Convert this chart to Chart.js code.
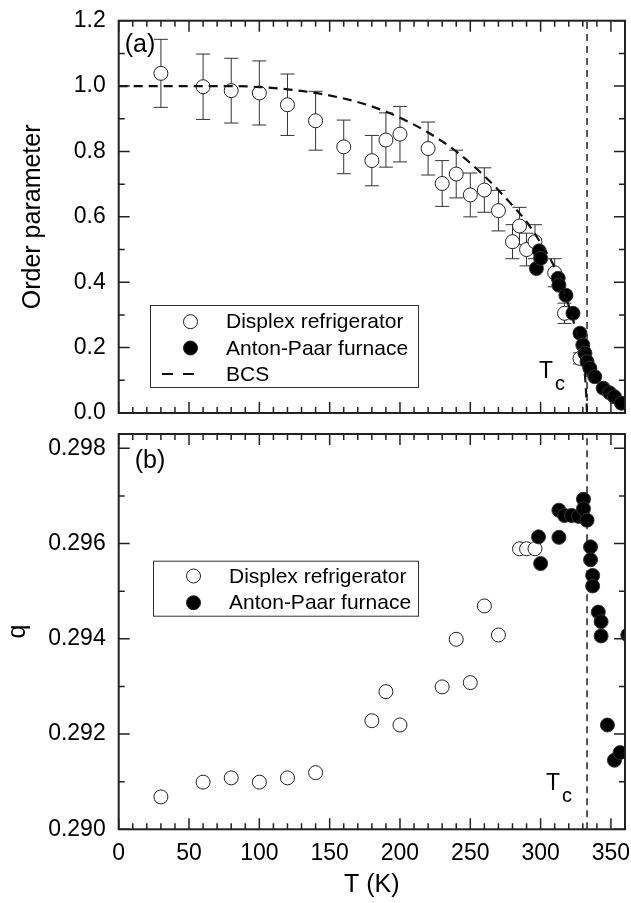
<!DOCTYPE html>
<html>
<head>
<meta charset="utf-8">
<script src="https://cdn.jsdelivr.net/npm/chart.js@4.4.0/dist/chart.umd.min.js"></script>
<style>
  html, body { margin: 0; padding: 0; background: #fff; }
  #wrap { position: relative; width: 631px; height: 903px; overflow: hidden; }
  canvas { position: absolute; left: 0; }
  #cA { top: 0; }
  #cB { top: 420px; }
</style>
</head>
<body>
<div id="wrap">
  <canvas id="cA" width="631" height="425"></canvas>
  <canvas id="cB" width="631" height="483"></canvas>
</div>
<script>
// transition temperature (K)
var tc = 333;

// (a) order parameter, Displex refrigerator (open, with error bars)
var dispT     = [30, 60, 80, 100, 120, 140, 160, 180, 190, 200, 220, 230, 240, 250, 260, 270, 280, 285, 290, 296, 310, 317, 328];
var dispOrder = [1.039, 0.998, 0.986, 0.979, 0.943, 0.894, 0.814, 0.772, 0.835, 0.853, 0.809, 0.702, 0.731, 0.667, 0.682, 0.619, 0.524, 0.572, 0.500, 0.524, 0.429, 0.305, 0.167];
var dispErr   = [0.104, 0.100, 0.099, 0.098, 0.094, 0.090, 0.082, 0.077, 0.083, 0.085, 0.081, 0.070, 0.073, 0.067, 0.068, 0.062, 0.052, 0.057, 0.050, 0.052, 0.043, 0.031, 0.017];

// (a) order parameter, Anton-Paar furnace (filled)
var furnT     = [297, 299, 300, 312.5, 313, 318, 323, 328, 330, 331.5, 333, 335, 338.5, 344.5, 349, 352.5, 357.5];
var furnOrder = [0.442, 0.496, 0.473, 0.412, 0.391, 0.360, 0.305, 0.244, 0.208, 0.183, 0.157, 0.137, 0.111, 0.076, 0.062, 0.050, 0.030];

// (a) BCS curve
var bcsT     = [0, 40, 80, 100, 120, 140, 160, 180, 200, 220, 240, 260, 280, 290, 300, 310, 316, 322, 326, 330, 332, 333];
var bcsOrder = [1.0, 1.0, 1.0, 0.997, 0.99, 0.979, 0.962, 0.938, 0.903, 0.858, 0.8, 0.725, 0.635, 0.585, 0.52, 0.445, 0.38, 0.3, 0.24, 0.16, 0.09, 0.0];

// (b) q, Displex refrigerator
var dispTq = [30, 60, 80, 100, 120, 140, 180, 190, 200, 230, 240, 250, 260, 270, 285, 290, 296];
var dispQ  = [0.29068, 0.29099, 0.29108, 0.29099, 0.29108, 0.29119, 0.29228, 0.29289, 0.29219, 0.29299, 0.29399, 0.29308, 0.29469, 0.29408, 0.29589, 0.29589, 0.29589];

// (b) q, Anton-Paar furnace
var furnTq = [298.5, 300, 313, 313, 317, 322, 327, 330.5, 330.5, 333, 335.5, 335.5, 337, 337, 341, 343, 343, 347.5, 352.5, 356.5, 362];
var furnQ  = [0.29614, 0.29558, 0.29670, 0.29613, 0.29659, 0.29659, 0.29657, 0.29693, 0.29673, 0.29649, 0.29593, 0.29566, 0.29533, 0.29511, 0.29456, 0.29436, 0.29406, 0.29219, 0.29145, 0.29161, 0.29408];

var FONT = "'Liberation Sans', Arial, sans-serif";
Chart.defaults.font.family = FONT;
Chart.defaults.color = '#000';

function pts(xs, ys) {
    return xs.map(function (x, i) { return { x: x, y: ys[i] }; });
}

// frame with inward ticks on all four sides
function boxTicks(yMin, yMinor, yCount) {
    return {
        id: 'boxTicks',
        afterDatasetsDraw: function (chart) {
            var ctx = chart.ctx, a = chart.chartArea;
            var xs = chart.scales.x, ys = chart.scales.y;
            ctx.save();
            ctx.strokeStyle = '#222';
            ctx.lineWidth = 1.5;
            ctx.beginPath();
            for (var i = 0; i <= 36; i++) {
                var px = xs.getPixelForValue(i * 10);
                var len = i % 5 === 0 ? 11 : 6;
                ctx.moveTo(px, a.bottom); ctx.lineTo(px, a.bottom - len);
                ctx.moveTo(px, a.top); ctx.lineTo(px, a.top + len);
            }
            for (var j = 0; j <= yCount; j++) {
                var py = ys.getPixelForValue(yMin + j * yMinor);
                var l2 = j % 2 === 0 ? 11 : 6;
                ctx.moveTo(a.left, py); ctx.lineTo(a.left + l2, py);
                ctx.moveTo(a.right, py); ctx.lineTo(a.right - l2, py);
            }
            ctx.stroke();
            ctx.lineWidth = 2;
            ctx.strokeRect(a.left, a.top, a.right - a.left, a.bottom - a.top);
            ctx.restore();
        }
    };
}

var errorBars = {
    id: 'errorBars',
    beforeDatasetsDraw: function (chart) {
        var ctx = chart.ctx, xs = chart.scales.x, ys = chart.scales.y;
        ctx.save();
        ctx.strokeStyle = '#333';
        ctx.lineWidth = 1;
        ctx.beginPath();
        dispT.forEach(function (t, i) {
            var px = xs.getPixelForValue(t);
            var top = ys.getPixelForValue(dispOrder[i] + dispErr[i]);
            var bot = ys.getPixelForValue(dispOrder[i] - dispErr[i]);
            ctx.moveTo(px, top); ctx.lineTo(px, bot);
            ctx.moveTo(px - 7, top); ctx.lineTo(px + 7, top);
            ctx.moveTo(px - 7, bot); ctx.lineTo(px + 7, bot);
        });
        ctx.stroke();
        ctx.restore();
    }
};

function legendBox(box, rows, tcPos, tag) {
    return {
        id: 'legendBox',
        afterDraw: function (chart) {
            var ctx = chart.ctx, a = chart.chartArea;
            var xTc = chart.scales.x.getPixelForValue(tc);
            ctx.save();
            ctx.fillStyle = '#fff';
            ctx.fillRect(box.x, box.y, box.w, box.h);
            ctx.strokeStyle = '#333';
            ctx.lineWidth = 1;
            ctx.strokeRect(box.x + 0.5, box.y + 0.5, box.w, box.h);
            ctx.font = '21px ' + FONT;
            ctx.textBaseline = 'middle';
            rows.forEach(function (r) {
                ctx.beginPath();
                if (r.kind === 'line') {
                    ctx.setLineDash([11, 10]);
                    ctx.lineWidth = 2.2;
                    ctx.strokeStyle = '#111';
                    ctx.moveTo(box.x + 12, r.y); ctx.lineTo(box.x + 45, r.y);
                    ctx.stroke();
                    ctx.setLineDash([]);
                } else {
                    ctx.arc(box.x + 40.5, r.y, 7, 0, Math.PI * 2);
                    ctx.fillStyle = r.kind === 'open' ? '#fff' : '#000';
                    ctx.fill();
                    ctx.lineWidth = 1;
                    ctx.strokeStyle = '#222';
                    ctx.stroke();
                }
                ctx.fillStyle = '#000';
                ctx.fillText(r.text, box.x + 76, r.y + 1);
            });
            // T_c label
            ctx.textBaseline = 'alphabetic';
            ctx.font = '23px ' + FONT;
            ctx.fillText('T', xTc + tcPos.tx, a.bottom - tcPos.ty);
            ctx.font = '20px ' + FONT;
            ctx.fillText('c', xTc + tcPos.cx, a.bottom - tcPos.cy);
            // panel tag
            ctx.font = '25px ' + FONT;
            ctx.fillText(tag.text, a.left + tag.dx, a.top + tag.dy);
            ctx.restore();
        }
    };
}

var tickFont = { size: 23 };
var titleFont = { size: 25 };

function fixY(s) {
    s.width = 118.7;
    s.paddingTop = 0;
    s.paddingBottom = 0;
}

// ---- panel (a)
new Chart(document.getElementById('cA'), {
    type: 'scatter',
    data: {
        datasets: [
            { data: pts(bcsT, bcsOrder), showLine: true, borderColor: '#111', borderWidth: 2.2,
              borderDash: [9, 6], pointRadius: 0, cubicInterpolationMode: 'monotone' },
            { data: pts(furnT, furnOrder), pointRadius: 7, pointBackgroundColor: '#000',
              pointBorderColor: '#333', pointBorderWidth: 1 },
            { data: pts(dispT, dispOrder), pointRadius: 7, pointBackgroundColor: '#fff',
              pointBorderColor: '#222', pointBorderWidth: 1 },
            { data: [{ x: tc, y: 0 }, { x: tc, y: 1.2 }], showLine: true, borderColor: '#222',
              borderWidth: 1.5, borderDash: [7, 5], pointRadius: 0 }
        ]
    },
    options: {
        responsive: false,
        animation: false,
        events: [],
        layout: { autoPadding: false, padding: { left: 0, right: 6, top: 20.7, bottom: 12 } },
        plugins: { legend: { display: false }, tooltip: { enabled: false } },
        scales: {
            x: { type: 'linear', min: 0, max: 360, display: false },
            y: {
                min: 0, max: 1.2,
                ticks: { stepSize: 0.2, padding: 13, font: tickFont, includeBounds: false,
                         callback: function (v) { return v.toFixed(1); } },
                grid: { display: false, drawTicks: false },
                border: { display: false },
                title: { display: true, text: 'Order parameter', font: titleFont, padding: { top: 18 } },
                afterFit: fixY
            }
        }
    },
    plugins: [errorBars, boxTicks(0, 0.1, 12),
        legendBox({ x: 150, y: 305, w: 268, h: 82 },
            [{ kind: 'open', y: 321.7, text: 'Displex refrigerator' },
             { kind: 'fill', y: 348, text: 'Anton-Paar furnace' },
             { kind: 'line', y: 374, text: 'BCS' }],
            { tx: -48, ty: 34.7, cx: -32, cy: 23 },
            { text: '(a)', dx: 6, dy: 31 })]
});

// ---- panel (b)
new Chart(document.getElementById('cB'), {
    type: 'scatter',
    data: {
        datasets: [
            { data: pts(furnTq, furnQ), pointRadius: 7, pointBackgroundColor: '#000',
              pointBorderColor: '#333', pointBorderWidth: 1 },
            { data: pts(dispTq, dispQ), pointRadius: 7, pointBackgroundColor: '#fff',
              pointBorderColor: '#222', pointBorderWidth: 1 },
            { data: [{ x: tc, y: 0.290 }, { x: tc, y: 0.2983 }], showLine: true, borderColor: '#222',
              borderWidth: 1.5, borderDash: [7, 5], pointRadius: 0 }
        ]
    },
    options: {
        responsive: false,
        animation: false,
        events: [],
        layout: { autoPadding: false, padding: { left: 0, right: 6, top: 14, bottom: 0 } },
        plugins: { legend: { display: false }, tooltip: { enabled: false } },
        scales: {
            x: {
                type: 'linear', min: 0, max: 360,
                ticks: { stepSize: 50, padding: 11, font: tickFont, includeBounds: false, maxRotation: 0 },
                grid: { display: false, drawTicks: false },
                border: { display: false },
                title: { display: true, text: 'T (K)', font: titleFont, padding: { top: 0, bottom: 3 } },
                afterFit: function (s) { s.height = 73.7; s.paddingLeft = 0; s.paddingRight = 0; }
            },
            y: {
                min: 0.290, max: 0.2983,
                ticks: { stepSize: 0.002, padding: 13, font: tickFont, includeBounds: false,
                         callback: function (v) { return v.toFixed(3); } },
                grid: { display: false, drawTicks: false },
                border: { display: false },
                title: { display: true, text: 'q', font: titleFont, padding: { top: 3.5 } },
                afterFit: fixY
            }
        }
    },
    plugins: [boxTicks(0.290, 0.001, 8),
        legendBox({ x: 153, y: 140.7, w: 265, h: 55 },
            [{ kind: 'open', y: 156, text: 'Displex refrigerator' },
             { kind: 'fill', y: 182.7, text: 'Anton-Paar furnace' }],
            { tx: -41, ty: 39.3, cx: -25, cy: 27.6 },
            { text: '(b)', dx: 16, dy: 34 })]
});
</script>
</body>
</html>
